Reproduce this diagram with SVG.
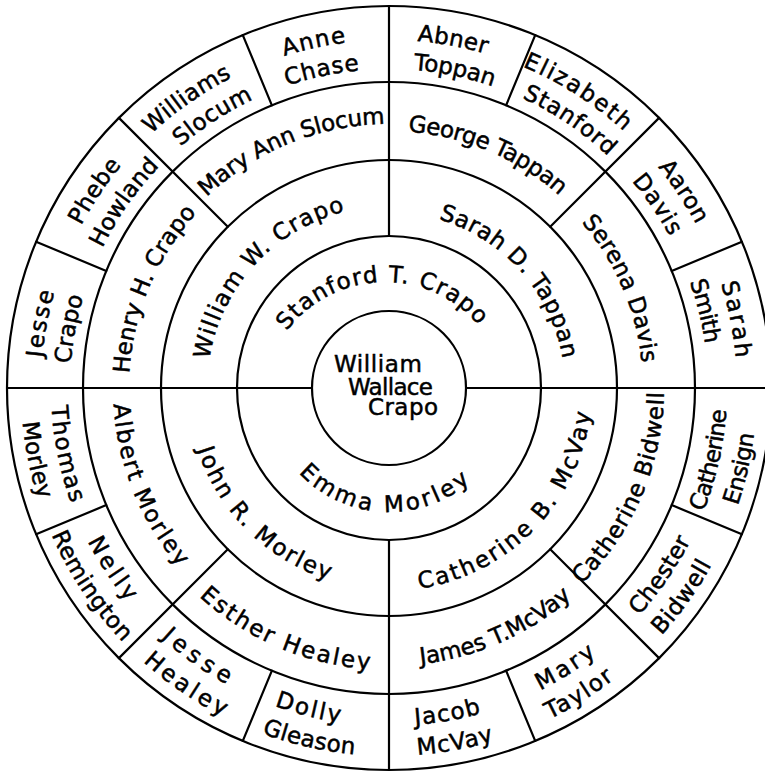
<svg xmlns="http://www.w3.org/2000/svg" width="765" height="772" viewBox="0 0 765 772">
<style>
.ln{fill:none;stroke:#000;stroke-width:2.2;stroke-linecap:round}
text{font-family:"DejaVu Sans","Liberation Sans",sans-serif;font-size:23px;fill:#000;stroke:#000;stroke-width:0.5}
.c{text-anchor:middle}
</style>
<rect width="765" height="772" fill="#fff"/>
<defs>
<path id="p_stan" d="M279.6,341.7 A123,123 0 0 1 486.4,335.3"/>
<path id="p_emma" d="M290.4,463.1 A124,124 0 0 0 479.5,472.7"/>
<path id="p_wwc" d="M207.25,378.48 A182,182 0 0 1 363.36,207.82"/>
<path id="p_sdt" d="M420.77,214.89 A176,176 0 0 1 564.65,376.95"/>
<path id="p_jrm" d="M192.24,429.10 A201,201 0 0 0 348.92,584.96"/>
<path id="p_cbm" d="M398.21,590.79 A203,203 0 0 0 591.97,391.54"/>
<path id="p_hhc" d="M129.31,400.70 A260,260 0 0 1 216.05,193.88"/>
<path id="p_mas" d="M187.65,217.24 A264,264 0 0 1 412.47,125.06"/>
<path id="p_gt" d="M382.27,131.08 A257,257 0 0 1 577.87,213.70"/>
<path id="p_sd" d="M563.14,203.09 A254,254 0 0 1 643.0,389.33"/>
<path id="p_cbw" d="M559.80,603.52 A275,275 0 0 0 662.9,363.55"/>
<path id="p_jtm" d="M391.91,665.99 A278,278 0 0 0 592.64,577.23"/>
<path id="p_eh" d="M178.46,575.59 A282,282 0 0 0 399.33,669.80"/>
<path id="p_am" d="M113.28,375.48 A276,276 0 0 0 198.67,587.88"/>
<path id="t1" d="M41,388 A348,348 0 0 1 64.11,263.28"/>
<path id="t2" d="M70.02,391.62 A319,319 0 0 1 92.52,270.32"/>
<path id="t3" d="M68.18,253.15 A348,348 0 0 1 142.06,142.80"/>
<path id="t4" d="M91.18,273.67 A319,319 0 0 1 179.70,147.25"/>
<path id="t5" d="M129.98,155.61 A348,348 0 0 1 259.47,64.99"/>
<path id="t6" d="M160.31,165.59 A319,319 0 0 1 278.85,88.62"/>
<path id="t7" d="M255.82,66.48 A348,348 0 0 1 376.26,40.24"/>
<path id="t8" d="M261.05,95.80 A319,319 0 0 1 387.05,69.01"/>
<path id="t9" d="M386.87,40.01 A348,348 0 0 1 514.56,63.46"/>
<path id="t10" d="M385.66,69.02 A319,319 0 0 1 518.74,96.59"/>
<path id="t11" d="M493.92,56.18 A348,348 0 0 1 645.37,152.68"/>
<path id="t12" d="M496.28,87.57 A319,319 0 0 1 627.36,175.99"/>
<path id="t13" d="M637.65,144.50 A348,348 0 0 1 709.33,252.04"/>
<path id="t14" d="M612.78,160.65 A319,319 0 0 1 681.87,261.58"/>
<path id="t15" d="M710.66,255.10 A348,348 0 0 1 737.0,388.30"/>
<path id="t16" d="M679.61,256.44 A319,319 0 0 1 707.55,371.03"/>
<path id="b1" d="M691.88,538.04 A338,338 0 0 0 726.93,381.22"/>
<path id="b2" d="M726.24,535.31 A368,368 0 0 0 756.73,402.13"/>
<path id="b3" d="M618.06,636.53 A338,338 0 0 0 702.73,513.80"/>
<path id="b4" d="M638.84,658.22 A368,368 0 0 0 725.83,536.19"/>
<path id="b5" d="M513.15,702.37 A338,338 0 0 0 618.94,635.75"/>
<path id="b6" d="M519.97,731.90 A368,368 0 0 0 638.84,658.22"/>
<path id="b7" d="M385.46,725.98 A338,338 0 0 0 509.02,703.96"/>
<path id="b8" d="M385.47,755.98 A368,368 0 0 0 524.17,730.28"/>
<path id="b9" d="M247.21,694.84 A338,338 0 0 0 368.96,725.39"/>
<path id="b10" d="M232.31,720.97 A368,368 0 0 0 386.43,755.99"/>
<path id="b11" d="M140.06,616.62 A338,338 0 0 0 252.89,697.37"/>
<path id="b12" d="M120.14,639.27 A368,368 0 0 0 252.03,729.58"/>
<path id="b13" d="M75.50,514.34 A338,338 0 0 0 146.89,623.86"/>
<path id="b14" d="M40.03,504.77 A368,368 0 0 0 146.12,664.48"/>
<path id="b15" d="M51.20,376.50 A338,338 0 0 0 82.54,530.57"/>
<path id="b16" d="M21.01,390.25 A368,368 0 0 0 49.37,529.72"/>
</defs>
<g id="chart-lines" class="ln">
<circle cx="389" cy="388" r="77"/>
<circle cx="389" cy="388" r="152"/>
<circle cx="389" cy="388" r="228"/>
<circle cx="389" cy="388" r="306"/>
<circle cx="389" cy="388" r="382"/>
<path d="M7,388 H312 M466,388 H765 M389,6 V236 M389,540 V770"/>
<path d="M227.8,226.8 L118.9,117.9 M550.2,226.8 L659.1,117.9 M550.2,549.2 L659.1,658.1 M227.8,549.2 L118.9,658.1"/>
<path d="M671.7,505.1 L741.9,534.2 M506.1,670.7 L535.2,740.9 M271.9,670.7 L242.8,740.9 M106.3,505.1 L36.1,534.2 M106.3,270.9 L36.1,241.8 M271.9,105.3 L242.8,35.1 M506.1,105.3 L535.2,35.1 M671.7,270.9 L741.9,241.8"/>
</g>
<g id="william-wallace-crapo"><text><tspan x="334" y="372" textLength="88" lengthAdjust="spacing">William</tspan><tspan x="348" y="395" textLength="85" lengthAdjust="spacing">Wallace</tspan><tspan x="368" y="415" textLength="70" lengthAdjust="spacing">Crapo</tspan></text></g>
<g id="stanford-t-crapo"><text class="c"><textPath href="#p_stan" startOffset="50%" textLength="220" lengthAdjust="spacing">Stanford T. Crapo</textPath></text></g>
<g id="emma-morley"><text class="c"><textPath href="#p_emma" startOffset="50%" textLength="189.6" lengthAdjust="spacing">Emma Morley</textPath></text></g>
<g id="william-w-crapo"><text class="c"><textPath href="#p_wwc" startOffset="50%" textLength="212.5" lengthAdjust="spacing">William W. Crapo</textPath></text></g>
<g id="sarah-d-tappan"><text class="c"><textPath href="#p_sdt" startOffset="50%" textLength="196.6" lengthAdjust="spacing">Sarah D. Tappan</textPath></text></g>
<g id="john-r-morley"><text class="c"><textPath href="#p_jrm" startOffset="50%" textLength="191.9" lengthAdjust="spacing">John R. Morley</textPath></text></g>
<g id="catherine-b-mcvay"><text class="c"><textPath href="#p_cbm" startOffset="50%" textLength="263.6" lengthAdjust="spacing">Catherine B. McVay</textPath></text></g>
<g id="henry-h-crapo"><text class="c"><textPath href="#p_hhc" startOffset="50%" textLength="177.4" lengthAdjust="spacing">Henry H. Crapo</textPath></text></g>
<g id="mary-ann-slocum"><text class="c"><textPath href="#p_mas" startOffset="50%" textLength="197.2" lengthAdjust="spacing">Mary Ann Slocum</textPath></text></g>
<g id="george-tappan"><text class="c"><textPath href="#p_gt" startOffset="50%" textLength="167" lengthAdjust="spacing">George Tappan</textPath></text></g>
<g id="serena-davis"><text class="c"><textPath href="#p_sd" startOffset="50%" textLength="155.2" lengthAdjust="spacing">Serena Davis</textPath></text></g>
<g id="catherine-bidwell"><text class="c"><textPath href="#p_cbw" startOffset="50%" textLength="214.5" lengthAdjust="spacing">Catherine Bidwell</textPath></text></g>
<g id="james-t-mcvay"><text class="c"><textPath href="#p_jtm" startOffset="50%" textLength="168" lengthAdjust="spacing">James T.McVay</textPath></text></g>
<g id="esther-healey"><text class="c"><textPath href="#p_eh" startOffset="50%" textLength="189" lengthAdjust="spacing">Esther Healey</textPath></text></g>
<g id="albert-morley"><text class="c"><textPath href="#p_am" startOffset="50%" textLength="178.2" lengthAdjust="spacing">Albert Morley</textPath></text></g>
<g id="jesse-crapo"><text class="c"><textPath href="#t1" startOffset="50%" textLength="66.8" lengthAdjust="spacing">Jesse</textPath></text><text class="c"><textPath href="#t2" startOffset="50%" textLength="68.5" lengthAdjust="spacing">Crapo</textPath></text></g>
<g id="phebe-howland"><text class="c"><textPath href="#t3" startOffset="50%" textLength="72.9" lengthAdjust="spacing">Phebe</textPath></text><text class="c"><textPath href="#t4" startOffset="50%" textLength="100.2" lengthAdjust="spacing">Howland</textPath></text></g>
<g id="williams-slocum"><text class="c"><textPath href="#t5" startOffset="50%" textLength="99" lengthAdjust="spacing">Williams</textPath></text><text class="c"><textPath href="#t6" startOffset="50%" textLength="86.9" lengthAdjust="spacing">Slocum</textPath></text></g>
<g id="anne-chase"><text class="c"><textPath href="#t7" startOffset="50%" textLength="63.2" lengthAdjust="spacing">Anne</textPath></text><text class="c"><textPath href="#t8" startOffset="50%" textLength="74" lengthAdjust="spacing">Chase</textPath></text></g>
<g id="abner-toppan"><text class="c"><textPath href="#t9" startOffset="50%" textLength="69.8" lengthAdjust="spacing">Abner</textPath></text><text class="c"><textPath href="#t10" startOffset="50%" textLength="81.3" lengthAdjust="spacing">Toppan</textPath></text></g>
<g id="elizabeth-stanford"><text class="c"><textPath href="#t11" startOffset="50%" textLength="120.9" lengthAdjust="spacing">Elizabeth</textPath></text><text class="c"><textPath href="#t12" startOffset="50%" textLength="104.1" lengthAdjust="spacing">Stanford</textPath></text></g>
<g id="aaron-davis"><text class="c"><textPath href="#t13" startOffset="50%" textLength="69.2" lengthAdjust="spacing">Aaron</textPath></text><text class="c"><textPath href="#t14" startOffset="50%" textLength="67.4" lengthAdjust="spacing">Davis</textPath></text></g>
<g id="sarah-smith"><text class="c"><textPath href="#t15" startOffset="50%" textLength="75.9" lengthAdjust="spacing">Sarah</textPath></text><text class="c"><textPath href="#t16" startOffset="50%" textLength="64" lengthAdjust="spacing">Smith</textPath></text></g>
<g id="catherine-ensign"><text class="c"><textPath href="#b1" startOffset="50%" textLength="105" lengthAdjust="spacing">Catherine</textPath></text><text class="c"><textPath href="#b2" startOffset="50%" textLength="74" lengthAdjust="spacing">Ensign</textPath></text></g>
<g id="chester-bidwell"><text class="c"><textPath href="#b3" startOffset="50%" textLength="91.4" lengthAdjust="spacing">Chester</textPath></text><text class="c"><textPath href="#b4" startOffset="50%" textLength="86.7" lengthAdjust="spacing">Bidwell</textPath></text></g>
<g id="mary-taylor"><text class="c"><textPath href="#b5" startOffset="50%" textLength="66.7" lengthAdjust="spacing">Mary</textPath></text><text class="c"><textPath href="#b6" startOffset="50%" textLength="76.4" lengthAdjust="spacing">Taylor</textPath></text></g>
<g id="jacob-mcvay"><text class="c"><textPath href="#b7" startOffset="50%" textLength="67.3" lengthAdjust="spacing">Jacob</textPath></text><text class="c"><textPath href="#b8" startOffset="50%" textLength="77.7" lengthAdjust="spacing">McVay</textPath></text></g>
<g id="dolly-gleason"><text class="c"><textPath href="#b9" startOffset="50%" textLength="67.3" lengthAdjust="spacing">Dolly</textPath></text><text class="c"><textPath href="#b10" startOffset="50%" textLength="95.1" lengthAdjust="spacing">Gleason</textPath></text></g>
<g id="jesse-healey"><text class="c"><textPath href="#b11" startOffset="50%" textLength="80.8" lengthAdjust="spacing">Jesse</textPath></text><text class="c"><textPath href="#b12" startOffset="50%" textLength="97" lengthAdjust="spacing">Healey</textPath></text></g>
<g id="nelly-remington"><text class="c"><textPath href="#b13" startOffset="50%" textLength="72.6" lengthAdjust="spacing">Nelly</textPath></text><text class="c"><textPath href="#b14" startOffset="50%" textLength="129.7" lengthAdjust="spacing">Remington</textPath></text></g>
<g id="thomas-morley"><text class="c"><textPath href="#b15" startOffset="50%" textLength="99.7" lengthAdjust="spacing">Thomas</textPath></text><text class="c"><textPath href="#b16" startOffset="50%" textLength="79" lengthAdjust="spacing">Morley</textPath></text></g>
</svg>
